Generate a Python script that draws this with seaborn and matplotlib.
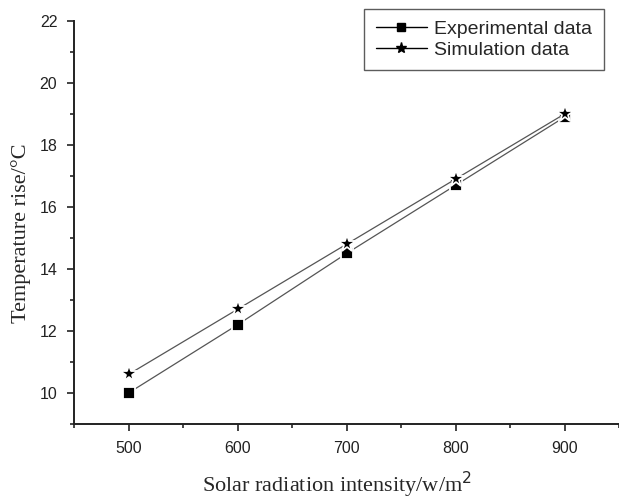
import pandas as pd
import matplotlib
matplotlib.use('Agg')
import matplotlib.pyplot as plt
from matplotlib.ticker import MultipleLocator
from matplotlib.lines import Line2D
import seaborn as sns

# Dados
radiation = [500, 600, 700, 800, 900]
experimental = [10.0, 12.2, 14.5, 16.7, 18.9]
simulation = [10.6, 12.7, 14.8, 16.9, 19.0]
series_names = ['Experimental data', 'Simulation data']

df = pd.DataFrame({
    'x': radiation * 2,
    'y': experimental + simulation,
    'serie': [series_names[0]] * len(radiation) + [series_names[1]] * len(radiation),
})

sns.set_theme(style='ticks')
plt.rcParams['font.family'] = ['Liberation Sans', 'DejaVu Sans']

fig = plt.figure(figsize=(6.19, 5.0), dpi=100)
ax = fig.add_axes([74 / 619, 76 / 500, (619 - 74) / 619, (424 - 21) / 500])

sns.lineplot(data=df, x='x', y='y', hue='serie', style='serie',
             palette=['black', 'black'], markers=['s', '*'], dashes=False,
             ax=ax, legend=False, linewidth=0.9)

# linhas cinza com pequeno espaço em volta dos marcadores (estilo Origin)
for line, ms in zip(ax.get_lines(), [9, 13]):
    line.set_color('#555555')
    line.set_markerfacecolor('black')
    line.set_markeredgecolor('white')
    line.set_markeredgewidth(1.3)
    line.set_markersize(ms)

ax.set_xlim(450, 950)
ax.set_ylim(9, 22)
ax.xaxis.set_major_locator(MultipleLocator(100))
ax.xaxis.set_minor_locator(MultipleLocator(50))
ax.yaxis.set_major_locator(MultipleLocator(2))
ax.yaxis.set_minor_locator(MultipleLocator(1))
ax.tick_params(which='major', direction='out', length=5, width=1.2, labelsize=11.5, colors='#222222')
ax.tick_params(which='minor', direction='out', length=3, width=1.2)
ax.tick_params(axis='x', pad=7)
ax.tick_params(axis='y', pad=7)
for s in ['left', 'bottom']:
    ax.spines[s].set_linewidth(1.4)
    ax.spines[s].set_color('#222222')
sns.despine(ax=ax)

ax.set_xlabel('Solar radiation intensity/w/m$^2$', family='Liberation Serif', fontsize=16)
ax.set_ylabel('Temperature rise/°C', family='Liberation Serif', fontsize=16)
ax.xaxis.set_label_coords((337 - 74) / (619 - 74), -(470 - 424) / (424 - 21))
ax.yaxis.set_label_coords(-(74 - 31) / (619 - 74), (424 - 233) / (424 - 21))

handles = [
    Line2D([], [], color='black', marker='s', markersize=6, linewidth=1),
    Line2D([], [], color='black', marker='*', markersize=8, linewidth=1),
]
leg = fig.legend(handles, series_names, loc='upper right',
                 bbox_to_anchor=(604 / 619, 1 - 9 / 500), bbox_transform=fig.transFigure,
                 frameon=True, fancybox=False, shadow=False, fontsize=14,
                 handlelength=2.6, handletextpad=0.4, borderpad=0.6, labelspacing=0.15,
                 borderaxespad=0)
leg.get_frame().set_edgecolor('#333333')
leg.get_frame().set_linewidth(1.0)

fig.savefig('out.png', dpi=100)
